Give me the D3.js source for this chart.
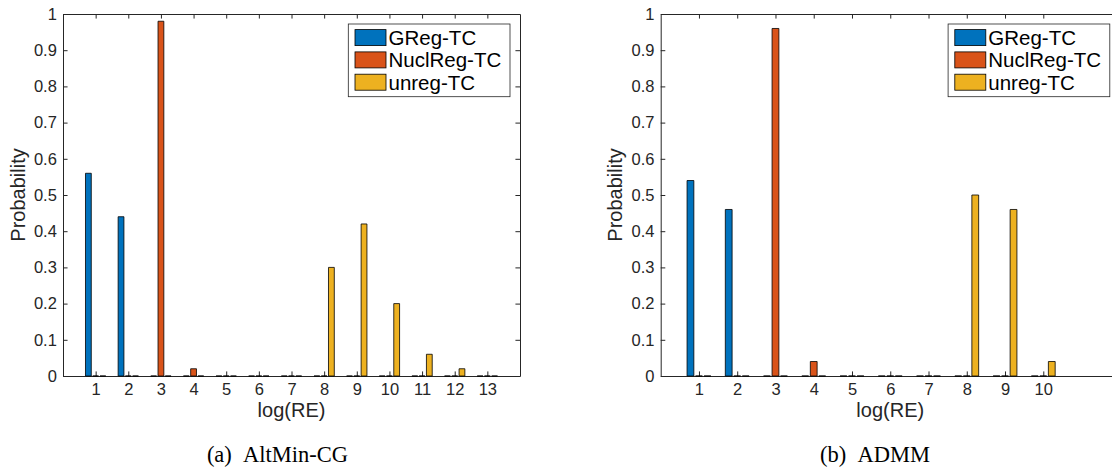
<!DOCTYPE html>
<html>
<head>
<meta charset="utf-8">
<script src="https://cdn.jsdelivr.net/npm/d3@7"></script>
<style>
  html, body { margin: 0; padding: 0; background: #fff; overflow: hidden; }
  svg { display: block; }
  .caption { font-family: "Liberation Serif", "Times New Roman", serif; fill: #000; }
</style>
</head>
<body>
<svg id="fig" width="1112" height="470"></svg>
<script>
// ---- data ----
const seriesNames  = ["GReg-TC", "NuclReg-TC", "unreg-TC"];
const seriesColors = ["#0072BD", "#D95319", "#EDB120"];
const yTicks = [0, 0.1, 0.2, 0.3, 0.4, 0.5, 0.6, 0.7, 0.8, 0.9, 1];

// (a) AltMin-CG
const binsA  = [1, 2, 3, 4, 5, 6, 7, 8, 9, 10, 11, 12, 13];
const gregA  = [0.56, 0.44, 0, 0, 0, 0, 0, 0, 0, 0, 0, 0, 0];
const nuclA  = [0, 0, 0.98, 0.02, 0, 0, 0, 0, 0, 0, 0, 0, 0];
const unregA = [0, 0, 0, 0, 0, 0, 0, 0.30, 0.42, 0.20, 0.06, 0.02, 0];

// (b) ADMM
const binsB  = [1, 2, 3, 4, 5, 6, 7, 8, 9, 10];
const gregB  = [0.54, 0.46, 0, 0, 0, 0, 0, 0, 0, 0];
const nuclB  = [0, 0, 0.96, 0.04, 0, 0, 0, 0, 0, 0];
const unregB = [0, 0, 0, 0, 0, 0, 0, 0.50, 0.46, 0.04];

// ---- layout ----
const panels = [
  { bins: binsA, series: [gregA, nuclA, unregA], xMax: 14, left: 63,    width: 457,   caption: "(a)\u2002AltMin-CG", capX: 277.5 },
  { bins: binsB, series: [gregB, nuclB, unregB], xMax: 12, left: 660.7, width: 459.1, caption: "(b)\u2002ADMM",       capX: 875 }
];
const plotTop = 14, plotBottom = 376;
const axisColor = "#262626";
const sansFont = '"Liberation Sans", Arial, Helvetica, sans-serif';

const svg = d3.select("#fig");

function styleAxis(g, fontSize) {
  g.attr("font-family", sansFont).attr("font-size", fontSize);
  g.selectAll(".domain").attr("stroke", axisColor).attr("stroke-width", 1);
  g.selectAll(".tick line").attr("stroke", axisColor).attr("stroke-width", 1);
  g.selectAll(".tick text").attr("fill", axisColor);
}

panels.forEach(p => {
  const g = svg.append("g");
  const x = d3.scaleLinear().domain([0, p.xMax]).range([p.left, p.left + p.width]);
  const y = d3.scaleLinear().domain([0, 1]).range([plotBottom, plotTop]);
  // position of each series inside a bin (grouped bars)
  const sub = d3.scaleBand().domain(seriesNames).range([-1 / 3, 1 / 3])
    .paddingInner(0.2).paddingOuter(0.1);
  const tickLen = 0.01 * p.width;

  // box axes
  g.append("g").attr("transform", `translate(0,${plotBottom})`)
    .call(d3.axisBottom(x).tickValues(p.bins).tickSizeInner(-tickLen).tickSizeOuter(0).tickPadding(7.5))
    .call(a => styleAxis(a, 16.5));
  g.append("g").attr("transform", `translate(0,${plotTop})`)
    .call(d3.axisTop(x).tickValues(p.bins).tickSizeInner(-tickLen).tickSizeOuter(0).tickFormat(""))
    .call(a => styleAxis(a, 16.5));
  g.append("g").attr("transform", `translate(${p.left},0)`)
    .call(d3.axisLeft(y).tickValues(yTicks).tickSizeInner(-tickLen).tickSizeOuter(0).tickPadding(6.2)
      .tickFormat(d => String(d)))
    .call(a => styleAxis(a, 16.5));
  g.append("g").attr("transform", `translate(${p.left + p.width},0)`)
    .call(d3.axisRight(y).tickValues(yTicks).tickSizeInner(-tickLen).tickSizeOuter(0).tickFormat(""))
    .call(a => styleAxis(a, 16.5));

  // bars (zero-valued bars collapse to a dark segment on the baseline)
  seriesNames.forEach((name, si) => {
    g.append("g").selectAll("path")
      .data(p.bins.map((b, i) => ({ b, v: p.series[si][i] })))
      .join("path")
      .attr("d", d => {
        const x0 = x(d.b + sub(name));
        const x1 = x(d.b + sub(name) + sub.bandwidth());
        const y0 = y(0), y1 = y(d.v);
        return `M${x0},${y0}V${y1}H${x1}V${y0}Z`;
      })
      .attr("fill", seriesColors[si])
      .attr("stroke", "#000")
      .attr("stroke-width", 0.8);
  });

  // axis labels
  g.append("text")
    .attr("x", p.left + p.width / 2).attr("y", 416.5)
    .attr("text-anchor", "middle")
    .attr("font-family", sansFont).attr("font-size", 20).attr("fill", axisColor)
    .text("log(RE)");
  g.append("text")
    .attr("transform", `translate(${p.left - 38.5},${(plotTop + plotBottom) / 2}) rotate(-90)`)
    .attr("text-anchor", "middle")
    .attr("font-family", sansFont).attr("font-size", 20).attr("fill", axisColor)
    .text("Probability");

  // legend
  const lw = 161.7, lh = 72.7;
  const lx = p.left + p.width - 10 - lw, ly = plotTop + 10;
  const lg = g.append("g");
  lg.append("rect")
    .attr("x", lx).attr("y", ly).attr("width", lw).attr("height", lh)
    .attr("fill", "#fff").attr("stroke", axisColor).attr("stroke-width", 0.8);
  const rows = lg.selectAll("g.row").data(seriesNames).join("g").attr("class", "row")
    .attr("transform", (d, i) => `translate(${lx},${ly + 5.6 + i * 22.3})`);
  rows.append("rect")
    .attr("x", 6.7).attr("y", 0).attr("width", 31).attr("height", 16)
    .attr("fill", (d, i) => seriesColors[i]).attr("stroke", "#000").attr("stroke-width", 0.8);
  rows.append("text")
    .attr("x", 40.2).attr("y", 15.5)
    .attr("font-family", sansFont).attr("font-size", 20.5).attr("fill", "#000")
    .text(d => d);

  // subfigure caption
  svg.append("text").attr("class", "caption")
    .attr("x", p.capX).attr("y", 461.5)
    .attr("text-anchor", "middle").attr("font-size", 22.5)
    .text(p.caption);
});
</script>
</body>
</html>
